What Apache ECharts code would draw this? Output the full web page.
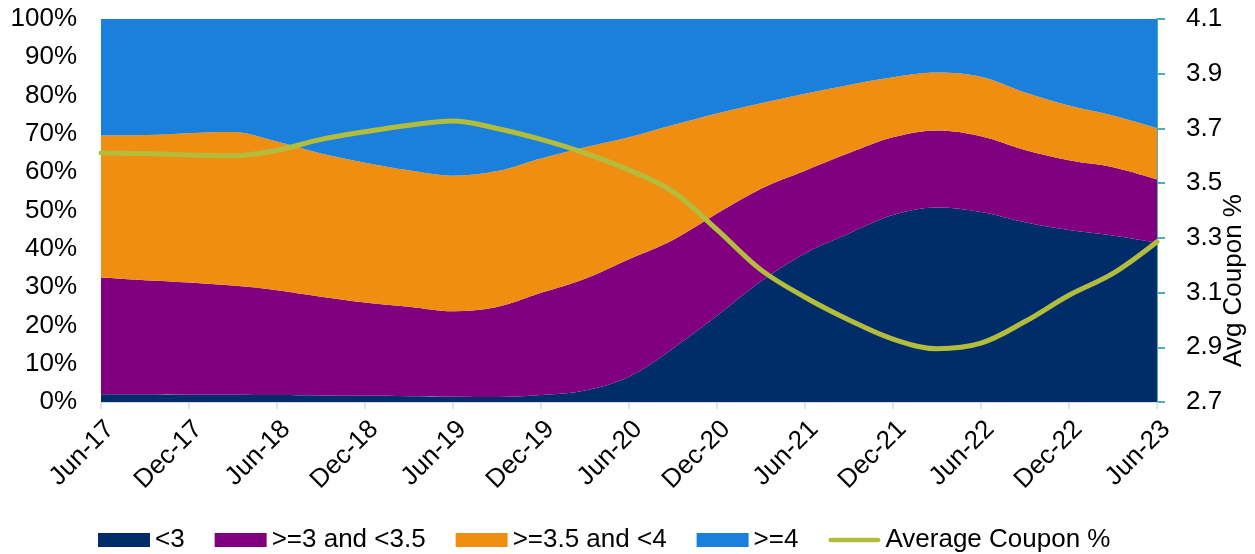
<!DOCTYPE html>
<html>
<head>
<meta charset="utf-8">
<title>Coupon distribution</title>
<script src="https://cdn.jsdelivr.net/npm/echarts@6/dist/echarts.min.js"></script>
<style>
  html, body { margin: 0; padding: 0; background: #fff; }
  #chart { width: 1255px; height: 554px; }
</style>
</head>
<body>
<div id="chart"></div>
<script>
// quarterly observations, Jun-17 .. Jun-23
const quarters = ['Jun-17', 'Sep-17', 'Dec-17', 'Mar-18', 'Jun-18', 'Sep-18', 'Dec-18', 'Mar-19',
                  'Jun-19', 'Sep-19', 'Dec-19', 'Mar-20', 'Jun-20', 'Sep-20', 'Dec-20', 'Mar-21',
                  'Jun-21', 'Sep-21', 'Dec-21', 'Mar-22', 'Jun-22', 'Sep-22', 'Dec-22', 'Mar-23', 'Jun-23'];

// share of balance by coupon bucket, %
const below3    = [2.0, 2.0, 1.9, 1.9, 1.8, 1.7, 1.6, 1.5, 1.4, 1.3, 1.8, 3.0, 6.6, 14.0, 22.5, 31.5, 38.8, 44.0, 48.8, 50.8, 49.6, 46.9, 44.9, 43.5, 41.6];
const from3to35 = [30.5, 29.8, 29.3, 28.5, 27.4, 25.8, 24.4, 23.4, 22.3, 23.5, 26.7, 29.2, 30.7, 28.3, 26.7, 24.2, 21.6, 21.0, 20.3, 20.1, 19.8, 18.9, 18.2, 17.8, 16.5];
const from35to4 = [37.1, 37.9, 39.0, 40.1, 38.8, 37.4, 36.5, 35.6, 35.4, 35.5, 35.1, 34.3, 31.8, 30.0, 26.1, 22.3, 20.1, 17.8, 15.7, 15.1, 15.5, 15.0, 14.3, 13.5, 13.4];
const atLeast4  = [30.4, 30.3, 29.8, 29.5, 32.0, 35.1, 37.5, 39.5, 40.9, 39.7, 36.4, 33.5, 30.9, 27.7, 24.7, 22.0, 19.5, 17.2, 15.2, 14.0, 15.1, 19.2, 22.6, 25.2, 28.5];

// average coupon, %
const avgCoupon = [3.61, 3.608, 3.603, 3.60, 3.62, 3.66, 3.688, 3.712, 3.727, 3.70, 3.66, 3.61, 3.548, 3.469, 3.33, 3.183, 3.083, 3.0, 2.93, 2.895, 2.915, 2.994, 3.09, 3.17, 3.286];

const couponTicks = [2.7, 2.9, 3.1, 3.3, 3.5, 3.7, 3.9, 4.1];

const FONT = 'Arial, "Liberation Sans", sans-serif';

function areaSeries(name, values, color) {
    return {
        name: name,
        type: 'line',
        stack: 'share',
        smooth: 0.35,
        symbol: 'none',
        lineStyle: { width: 0 },
        areaStyle: { color: color, opacity: 1 },
        itemStyle: { color: color },
        data: values
    };
}

const chart = echarts.init(document.getElementById('chart'));

chart.setOption({
    animation: false,
    grid: {
        left: 101,
        right: 98,
        top: 19,
        bottom: 152,
        outerBoundsMode: 'none'
    },
    legend: {
        left: 93,
        top: 522,
        itemWidth: 52,
        itemHeight: 14,
        itemGap: 30,
        textStyle: { fontFamily: FONT, fontSize: 26, color: '#000' },
        data: [
            { name: '<3', icon: 'rect' },
            { name: '>=3 and <3.5', icon: 'rect' },
            { name: '>=3.5 and <4', icon: 'rect' },
            { name: '>=4', icon: 'rect' },
            { name: 'Average Coupon %', icon: 'path://M2.5,0 L53.5,0 A2.5,2.5 0 0 1 53.5,5 L2.5,5 A2.5,2.5 0 0 1 2.5,0 Z' }
        ]
    },
    xAxis: {
        type: 'category',
        boundaryGap: false,
        data: quarters,
        splitLine: { show: false },
        axisLine: { show: true, lineStyle: { color: '#d9d9d9', width: 1.5 } },
        axisTick: {
            show: true,
            interval: 1,
            length: 7,
            lineStyle: { color: '#d9d9d9', width: 1.5 }
        },
        axisLabel: {
            interval: 1,
            rotate: 45,
            margin: 14,
            verticalAlign: 'top',
            fontFamily: FONT,
            fontSize: 26,
            color: '#000'
        }
    },
    yAxis: [
        {
            type: 'value',
            min: 0,
            max: 100,
            interval: 10,
            axisLine: { show: false },
            axisTick: { show: false },
            splitLine: { show: true, lineStyle: { color: '#cfe3e9', width: 1 } },
            axisLabel: {
                margin: 24,
                fontFamily: FONT,
                fontSize: 26,
                color: '#000',
                formatter: '{value}%'
            }
        },
        {
            type: 'value',
            min: 2.7,
            max: 4.1,
            position: 'right',
            name: 'Avg Coupon %',
            nameLocation: 'middle',
            nameRotate: 90,
            nameGap: 64,
            nameMoveOverlap: false,
            nameTextStyle: {
                fontFamily: FONT,
                fontSize: 26,
                color: '#000',
                padding: [0, 140, 0, 0]
            },
            splitLine: { show: false },
            axisLine: { show: true, lineStyle: { color: '#4bacc6', width: 2 } },
            axisTick: {
                show: true,
                customValues: couponTicks,
                length: 8,
                lineStyle: { color: '#4bacc6', width: 2 }
            },
            axisLabel: {
                customValues: couponTicks,
                margin: 29,
                fontFamily: FONT,
                fontSize: 26,
                color: '#000',
                formatter: v => v.toFixed(1)
            }
        }
    ],
    series: [
        areaSeries('<3', below3, '#002c69'),
        areaSeries('>=3 and <3.5', from3to35, '#800080'),
        areaSeries('>=3.5 and <4', from35to4, '#f08e12'),
        areaSeries('>=4', atLeast4, '#1a80dc'),
        {
            name: 'Average Coupon %',
            type: 'line',
            yAxisIndex: 1,
            smooth: 0.35,
            symbol: 'none',
            z: 5,
            lineStyle: { color: '#b4bd3b', width: 5, cap: 'round' },
            itemStyle: { color: '#b4bd3b' },
            data: avgCoupon
        }
    ]
});

window.addEventListener('resize', () => chart.resize());
</script>
</body>
</html>
